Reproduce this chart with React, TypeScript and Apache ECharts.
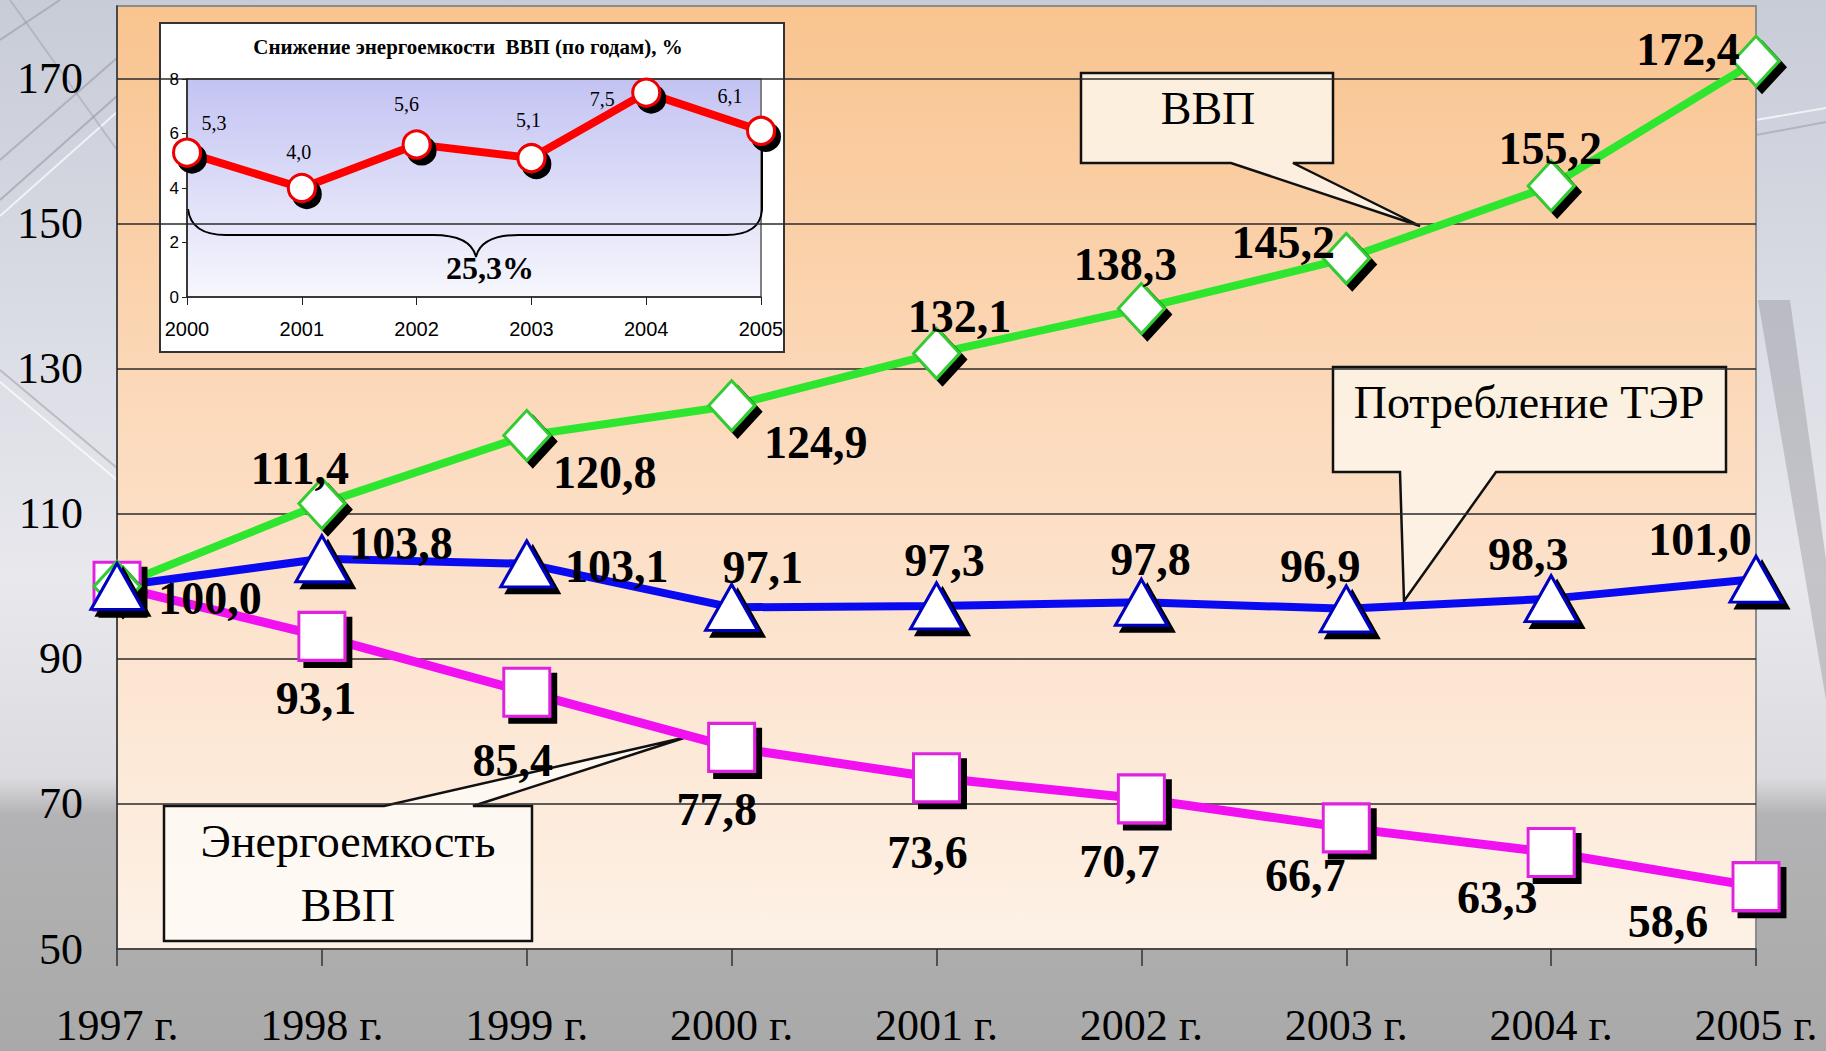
import React, { useEffect, useRef } from 'react';
import * as echarts from 'echarts';

// ---------- data ----------
const years = ['1997 г.', '1998 г.', '1999 г.', '2000 г.', '2001 г.', '2002 г.', '2003 г.', '2004 г.', '2005 г.'];
const gdp = [100.0, 111.4, 120.8, 124.9, 132.1, 138.3, 145.2, 155.2, 172.4];
const fuelUse = [100.0, 103.8, 103.1, 97.1, 97.3, 97.8, 96.9, 98.3, 101.0];
const energyIntensity = [100.0, 93.1, 85.4, 77.8, 73.6, 70.7, 66.7, 63.3, 58.6];
const yTickLabels = [50, 70, 90, 110, 130, 150, 170];

const insetTitle = 'Снижение энергоемкости  ВВП (по годам), %';
const insetYears = ['2000', '2001', '2002', '2003', '2004', '2005'];
const insetDecline = [5.3, 4.0, 5.6, 5.1, 7.5, 6.1];
const totalDecline = '25,3%';

const calloutGdp = 'ВВП';
const calloutFuel = 'Потребление ТЭР';
const calloutIntensity = ['Энергоемкость', 'ВВП'];

// ---------- label placement (styles) ----------
const gdpLabelOffsets: (number[] | null)[] = [null, [-22, -35], [78, 37], [84, 37], [23, -37], [-16, -44], [-63, -16], [-1, -37], [-68, -12]];
const fuelLabelOffsets: (number[] | null)[] = [[93, 12], [79, -15], [90, 3], [31, -40], [8, -45], [9, -43], [-26, -42], [-23, -44], [-56, -40]];
const intensityLabelOffsets: (number[] | null)[] = [null, [-6, 62], [-14, 68], [-15, 62], [-9, 75], [-22, 63], [-41, 48], [-54, 45], [-88, 35]];
const insetLabelOffsets: (number[] | null)[] = [[27, -30], [-3, -36], [-10, -40], [-3, -38], [-44, 6], [-31, -35]];

const serif = '"Liberation Serif", "Times New Roman", serif';
const sans = '"Liberation Sans", Arial, sans-serif';
const fmt = (v: number) => v.toFixed(1).replace('.', ',');

function mkData(values: number[], offsets: (number[] | null)[]) {
  return values.map((v, i) => ({
    value: v,
    label: offsets[i] ? { show: true, offset: offsets[i] } : { show: false },
  }));
}

export default function App() {
  const ref = useRef<HTMLDivElement>(null);

  useEffect(() => {
    document.body.style.margin = '0';
    const braceD =
      'M188,209 Q191,235 226,235 L433,235 Q471,235 476,257 Q481,235 519,235 L726,235 Q760,235 762,210 L762,150';
    echarts.graphic.registerShape('brace', echarts.graphic.extendPath(braceD, {}));

    const chart = echarts.init(ref.current!, null, { renderer: 'svg' });

    const shadow = { shadowColor: '#000', shadowBlur: 0, shadowOffsetX: 6, shadowOffsetY: 6 };
    const mainLabel = {
      show: true,
      position: 'inside',
      fontFamily: serif,
      fontWeight: 'bold',
      fontSize: 46,
      color: '#000',
      formatter: (p: any) => fmt(p.value),
    };

    const lg = (stops: [number, string][]) =>
      new echarts.graphic.LinearGradient(0, 0, 0, 1, stops.map(([offset, color]) => ({ offset, color })));

    const text = (t: string, x: number, y: number, size: number, weight: string, z: number) => ({
      type: 'text',
      x,
      y,
      z,
      silent: true,
      style: {
        text: t,
        fontFamily: serif,
        fontSize: size,
        fontWeight: weight,
        fill: '#000',
        align: 'center',
        verticalAlign: 'middle',
        textAlign: 'center',
        textVerticalAlign: 'middle',
      },
    });

    const calloutStyle = { fill: 'rgba(252,243,230,0.9)', stroke: '#111', lineWidth: 2.5 };
    const wire = (pts: number[][], color: string, w: number) => ({
      type: 'polyline',
      z: -9,
      silent: true,
      shape: { points: pts },
      style: { stroke: color, lineWidth: w, fill: 'none' },
    });

    const option: any = {
      animation: false,
      graphic: {
        elements: [
          {
            type: 'rect',
            z: -10,
            silent: true,
            shape: { x: 0, y: 0, width: 1826, height: 1051 },
            style: {
              fill: lg([
                [0, '#C8CCD7'],
                [0.3, '#DADCE4'],
                [0.55, '#E8E8ED'],
                [0.74, '#DCDCE0'],
                [0.775, '#B3B3B5'],
                [1, '#A9A9A9'],
              ]),
            },
          },
          // faint power-line texture
          wire([[0, 200], [117, 96]], 'rgba(140,145,158,0.55)', 2),
          wire([[0, 216], [117, 112]], 'rgba(255,255,255,0.7)', 2),
          wire([[0, 160], [117, 58]], 'rgba(140,145,158,0.5)', 2),
          wire([[0, 40], [60, 0]], 'rgba(140,145,158,0.5)', 2),
          wire([[10, 0], [117, 150]], 'rgba(150,155,165,0.45)', 2),
          wire([[0, 370], [117, 468]], 'rgba(150,150,160,0.5)', 2),
          wire([[0, 382], [117, 480]], 'rgba(255,255,255,0.7)', 2),
          wire([[1756, 120], [1826, 108]], 'rgba(255,255,255,0.7)', 2),
          wire([[1756, 135], [1826, 122]], 'rgba(150,150,160,0.5)', 2),
          {
            type: 'polygon',
            z: -9,
            silent: true,
            shape: { points: [[1758, 300], [1790, 300], [1826, 560], [1826, 700]] },
            style: { fill: 'rgba(130,130,135,0.35)' },
          },
          // inset frame
          {
            type: 'rect',
            z: 2,
            silent: true,
            shape: { x: 160, y: 23, width: 624, height: 329 },
            style: { fill: '#ffffff', stroke: '#333', lineWidth: 2 },
          },
          text(insetTitle, 468, 47, 21, 'bold', 4),
          {
            type: 'brace',
            z: 4,
            silent: true,
            x: 0,
            y: 0,
            style: { fill: 'none', stroke: '#000', lineWidth: 2 },
          },
          text(totalDecline, 490, 268, 32, 'bold', 4),
          // callouts
          {
            type: 'polygon',
            z: 4,
            silent: true,
            shape: { points: [[1081, 73], [1333, 73], [1333, 163], [1293, 163], [1420, 226], [1231, 163], [1081, 163]] },
            style: calloutStyle,
          },
          text(calloutGdp, 1208, 108, 46, 'normal', 4),
          {
            type: 'polygon',
            z: 4,
            silent: true,
            shape: { points: [[1333, 367], [1726, 367], [1726, 472], [1496, 472], [1404, 601], [1400, 472], [1333, 472]] },
            style: calloutStyle,
          },
          text(calloutFuel, 1529, 402, 46, 'normal', 4),
          {
            type: 'polygon',
            z: 4,
            silent: true,
            shape: { points: [[164, 806], [384, 806], [687, 737], [473, 806], [532, 806], [532, 941], [164, 941]] },
            style: { fill: 'rgba(254,249,242,0.95)', stroke: '#111', lineWidth: 2.5 },
          },
          text(calloutIntensity[0], 348, 841, 46, 'normal', 4),
          text(calloutIntensity[1], 348, 905, 46, 'normal', 4),
        ],
      },
      grid: [
        {
          left: 117,
          right: 70,
          top: 6,
          bottom: 102,
          show: true,
          z: 0,
          backgroundColor: lg([
            [0, '#F9C48F'],
            [0.5, '#FCDDC2'],
            [1, '#FDF1E6'],
          ]),
          borderColor: '#8c8c8c',
          borderWidth: 2,
        },
        {
          left: 187,
          top: 79,
          width: 574,
          height: 218,
          show: true,
          z: 3,
          backgroundColor: lg([
            [0, '#C3C3F3'],
            [1, '#F7F7FD'],
          ]),
          borderColor: '#808080',
          borderWidth: 2,
        },
      ],
      xAxis: [
        {
          type: 'category',
          gridIndex: 0,
          data: years,
          boundaryGap: false,
          z: 3,
          axisLine: { lineStyle: { color: '#333', width: 1.5 } },
          axisTick: { show: true, length: 17, lineStyle: { color: '#333', width: 1.5 } },
          axisLabel: { fontFamily: serif, fontSize: 44, color: '#000', margin: 54 },
          splitLine: { show: false },
        },
        {
          type: 'category',
          gridIndex: 1,
          data: insetYears,
          boundaryGap: false,
          z: 5,
          axisLine: { lineStyle: { color: '#222', width: 1.5 } },
          axisTick: { show: true, length: 8, lineStyle: { color: '#222' } },
          axisLabel: { fontFamily: sans, fontSize: 20, color: '#000', margin: 22 },
          splitLine: { show: false },
        },
      ],
      yAxis: [
        {
          type: 'value',
          gridIndex: 0,
          min: 50,
          max: 180,
          interval: 10,
          z: 3,
          axisLine: { show: true, lineStyle: { color: '#333', width: 1.5 } },
          axisTick: { show: false },
          splitLine: { show: false },
          axisLabel: {
            fontFamily: serif,
            fontSize: 44,
            color: '#000',
            margin: 34,
            formatter: (v: number) => (yTickLabels.includes(v) ? String(v) : ''),
          },
        },
        {
          type: 'value',
          gridIndex: 1,
          min: 0,
          max: 8,
          interval: 2,
          z: 5,
          axisLine: { show: true, lineStyle: { color: '#222', width: 1.5 } },
          axisTick: { show: true, length: 5, lineStyle: { color: '#222' } },
          splitLine: { show: false },
          axisLabel: { fontFamily: sans, fontSize: 17, color: '#000', margin: 8 },
        },
      ],
      series: [
        {
          type: 'line',
          xAxisIndex: 0,
          yAxisIndex: 0,
          data: [],
          z: 1,
          silent: true,
          markLine: {
            silent: true,
            symbol: ['none', 'none'],
            label: { show: false },
            lineStyle: { color: '#2a2a2a', width: 1.5, type: 'solid' },
            data: yTickLabels.filter((v) => v > 50).map((v) => ({ yAxis: v })),
          },
        },
        {
          name: 'Энергоемкость ВВП',
          type: 'line',
          xAxisIndex: 0,
          yAxisIndex: 0,
          z: 5,
          data: mkData(energyIntensity, intensityLabelOffsets),
          symbol: 'rect',
          symbolSize: [46, 48],
          lineStyle: { color: '#F010F0', width: 9 },
          itemStyle: { color: '#ffffff', borderColor: '#E020E0', borderWidth: 3, ...shadow },
          label: mainLabel,
        },
        {
          name: 'ВВП',
          type: 'line',
          xAxisIndex: 0,
          yAxisIndex: 0,
          z: 5,
          data: mkData(gdp, gdpLabelOffsets),
          symbol: 'diamond',
          symbolSize: [46, 50],
          lineStyle: { color: '#2EE62E', width: 8 },
          itemStyle: { color: '#ffffff', borderColor: '#33CC33', borderWidth: 3, ...shadow },
          label: mainLabel,
        },
        {
          name: 'Потребление ТЭР',
          type: 'line',
          xAxisIndex: 0,
          yAxisIndex: 0,
          z: 5,
          data: mkData(fuelUse, fuelLabelOffsets),
          symbol: 'triangle',
          symbolSize: [52, 46],
          lineStyle: { color: '#0A0AF0', width: 8 },
          itemStyle: { color: '#ffffff', borderColor: '#0000C0', borderWidth: 3, ...shadow },
          label: mainLabel,
        },
        {
          name: insetTitle,
          type: 'line',
          xAxisIndex: 1,
          yAxisIndex: 1,
          z: 6,
          data: mkData(insetDecline, insetLabelOffsets),
          symbol: 'circle',
          symbolSize: 27,
          lineStyle: { color: '#FF0000', width: 8 },
          itemStyle: { color: '#ffffff', borderColor: '#EE0000', borderWidth: 3, shadowColor: '#000', shadowBlur: 0, shadowOffsetX: 5, shadowOffsetY: 6 },
          label: {
            show: true,
            position: 'inside',
            fontFamily: serif,
            fontSize: 20,
            color: '#000',
            formatter: (p: any) => fmt(p.value),
          },
        },
      ],
    };

    chart.setOption(option);
    return () => chart.dispose();
  }, []);

  return <div ref={ref} style={{ position: 'absolute', left: 0, top: 0, width: 1826, height: 1051 }} />;
}
